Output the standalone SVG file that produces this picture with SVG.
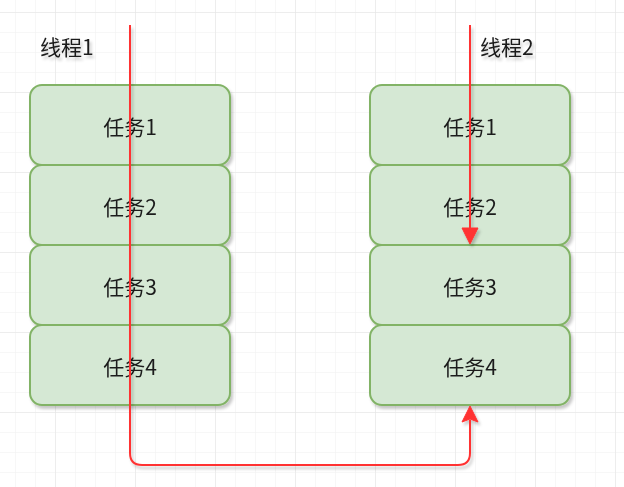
<svg xmlns="http://www.w3.org/2000/svg" width="624" height="487" viewBox="0 0 624 487">
<defs>
<pattern id="minor" x="15" y="12" width="20" height="20" patternUnits="userSpaceOnUse">
<path d="M0 0H20M0 0V20" fill="none" stroke="#f0f0f0" stroke-width="1"/>
</pattern>
<pattern id="major" x="55" y="12" width="80" height="80" patternUnits="userSpaceOnUse">
<path d="M0 0H80M0 0V80" fill="none" stroke="#e4e4e4" stroke-width="1"/>
</pattern>
<filter id="sh" x="-10%" y="-10%" width="130%" height="140%">
<feDropShadow dx="2" dy="3" stdDeviation="1.5" flood-color="#000" flood-opacity="0.22"/>
</filter>
<marker id="arr" viewBox="0 0 10 10" refX="9" refY="5" markerWidth="5" markerHeight="5" orient="auto" markerUnits="userSpaceOnUse">
</marker>
</defs>
<style>
.box{fill:#d5e8d4;stroke:#82b366;stroke-width:2}
.t{font-family:"Noto Sans CJK SC","Liberation Sans",sans-serif;font-size:21px;fill:#1a1a1a;text-anchor:middle;dominant-baseline:central}
.lbl{font-family:"Noto Sans CJK SC","Liberation Sans",sans-serif;font-size:21px;fill:#1a1a1a}
.wire{fill:none;stroke:#ff3333;stroke-width:2}
.head{fill:#ff3333;stroke:#ff3333;stroke-width:1}
</style>
<rect width="624" height="487" fill="#ffffff"/>
<rect width="624" height="487" fill="url(#minor)"/>
<rect width="624" height="487" fill="url(#major)"/>
<g id="label1" filter="url(#sh)"><text class="lbl" x="40" y="55">线程1</text></g>
<g id="label2" filter="url(#sh)"><text class="lbl" x="480" y="55">线程2</text></g>
<g id="n1" filter="url(#sh)"><rect class="box" x="30" y="85" width="200" height="80" rx="12"/><text class="t" x="130" y="126">任务1</text></g>
<g id="n2" filter="url(#sh)"><rect class="box" x="30" y="165" width="200" height="80" rx="12"/><text class="t" x="130" y="206">任务2</text></g>
<g id="n3" filter="url(#sh)"><rect class="box" x="30" y="245" width="200" height="80" rx="12"/><text class="t" x="130" y="286">任务3</text></g>
<g id="n4" filter="url(#sh)"><rect class="box" x="30" y="325" width="200" height="80" rx="12"/><text class="t" x="130" y="366">任务4</text></g>
<g id="m1" filter="url(#sh)"><rect class="box" x="370" y="85" width="200" height="80" rx="12"/><text class="t" x="470" y="126">任务1</text></g>
<g id="m2" filter="url(#sh)"><rect class="box" x="370" y="165" width="200" height="80" rx="12"/><text class="t" x="470" y="206">任务2</text></g>
<g id="m3" filter="url(#sh)"><rect class="box" x="370" y="245" width="200" height="80" rx="12"/><text class="t" x="470" y="286">任务3</text></g>
<g id="m4" filter="url(#sh)"><rect class="box" x="370" y="325" width="200" height="80" rx="12"/><text class="t" x="470" y="366">任务4</text></g>
<g id="connectors" filter="url(#sh)">
<path class="wire" d="M130 25V453Q130 465 142 465H458Q470 465 470 453V420"/>
<path class="head" d="M470 406L478 422L470 419L462 422Z"/>
<path class="wire" d="M470 25V230"/>
<path class="head" d="M470 244L462 228H478Z"/>
</g>
</svg>
